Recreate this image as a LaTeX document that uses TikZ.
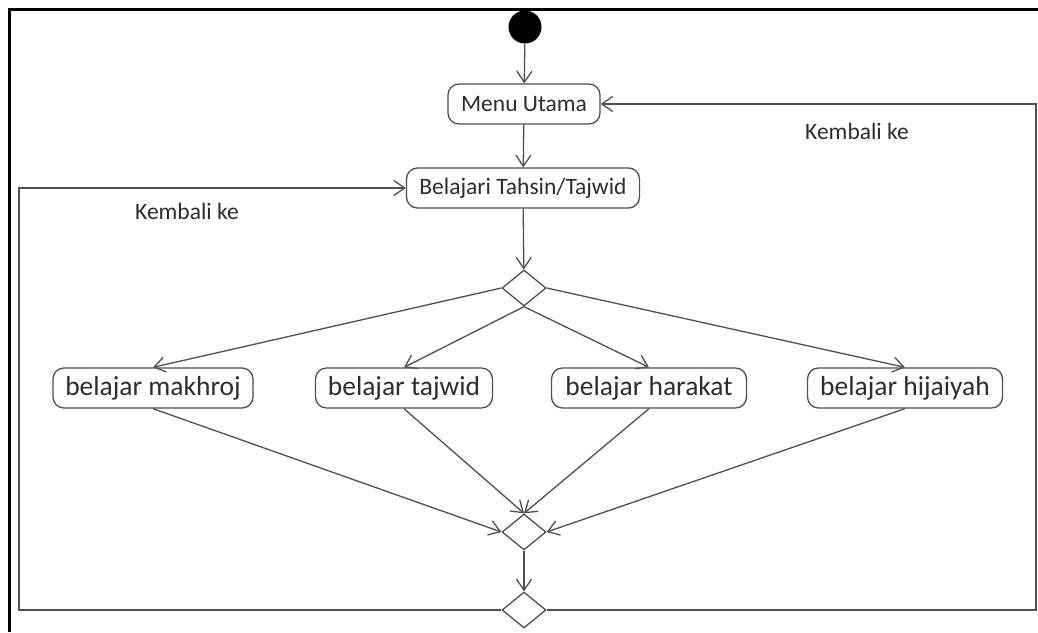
\documentclass[tikz,border=0pt]{standalone}
\usepackage{fontspec}
\setmainfont{Carlito}
\usetikzlibrary{shapes.geometric,arrows.meta}
\definecolor{ln}{RGB}{80,80,80}
\definecolor{tx}{RGB}{45,45,45}
\tikzset{
  act/.style={draw=ln, line width=1.3pt, rounded corners=11pt, inner sep=0pt, text=tx, minimum height=40pt},
  dec/.style={draw=ln, line width=1.3pt, diamond, inner sep=0pt, minimum width=44pt, minimum height=36pt},
  arr/.style={draw=ln, line width=1.3pt, -{Straight Barb[length=11pt,width=15pt]}},
  lbl/.style={text=tx, inner sep=0pt},
  big/.style={font=\fontsize{27.5}{31}\selectfont},
  mid/.style={font=\fontsize{23.5}{27}\selectfont}
}
\begin{document}
\begin{tikzpicture}[x=1pt,y=-1pt]
\useasboundingbox (0,0) rectangle (1038,632);
\fill[white] (0,0) rectangle (1038,632);
% outer frame
\draw[black, line width=3pt] (9,632) -- (9,9) -- (1038,9);
% nodes
\node[circle, fill=black, minimum size=33pt, inner sep=0pt] (start) at (525,27) {};
\node[act, mid, minimum width=152pt] (menu) at (524,104) {Menu Utama};
\node[act, mid, minimum width=233pt] (tahsin) at (523,188) {Belajari Tahsin/Tajwid};
\node[dec] (d1) at (524,288) {};
\node[act, big, minimum width=200pt] (makhroj) at (153,388) {belajar makhroj};
\node[act, big, minimum width=177pt] (tajwid) at (404,388) {belajar tajwid};
\node[act, big, minimum width=195pt] (harakat) at (649,388) {belajar harakat};
\node[act, big, minimum width=195pt] (hijaiyah) at (905,388) {belajar hijaiyah};
\node[dec] (d2) at (524,532) {};
\node[dec] (d3) at (524,610) {};
\node[lbl, mid] (k1) at (187,211) {Kembali ke};
\node[lbl, mid] (k2) at (857,131) {Kembali ke};
\coordinate (lx) at (19,0);
\coordinate (rx) at (1036,0);
% connectors
\draw[arr] (start) -- (menu);
\draw[arr] (menu) -- (tahsin);
\draw[arr] (tahsin) -- (d1);
\draw[arr] (d1.west) -- (makhroj.north);
\draw[arr] (d1.south) -- (tajwid.north);
\draw[arr] (d1.south) -- (harakat.north);
\draw[arr] (d1.east) -- (hijaiyah.north);
\draw[arr] (makhroj.south) -- (d2.west);
\draw[arr] (tajwid.south) -- (d2.north);
\draw[arr] (harakat.south) -- (d2.north);
\draw[arr] (hijaiyah.south) -- (d2.east);
\draw[arr] (d2) -- (d3);
\draw[arr] (d3.west) -- (d3.west -| lx) |- (tahsin.west);
\draw[arr] (d3.east) -- (d3.east -| rx) |- (menu.east);
\end{tikzpicture}
\end{document}
